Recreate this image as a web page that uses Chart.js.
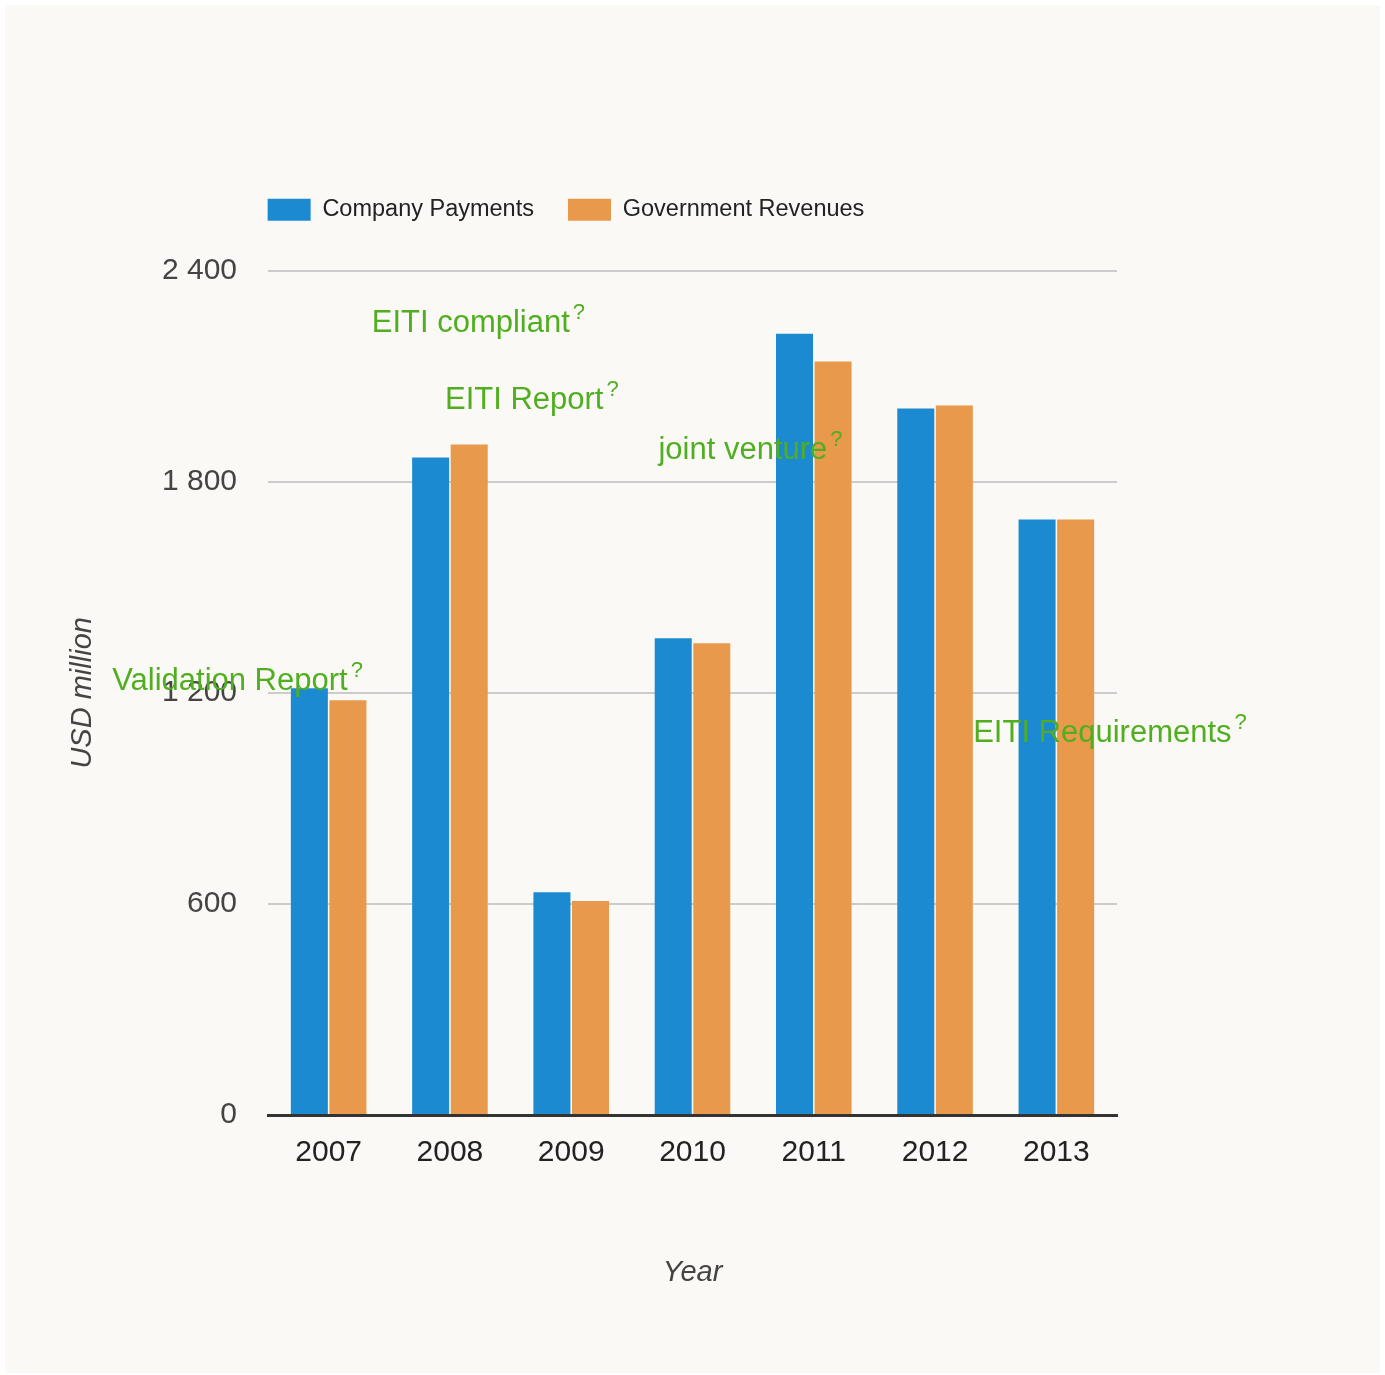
<!DOCTYPE html>
<html>
<head>
<meta charset="utf-8">
<script src="https://cdn.jsdelivr.net/npm/chart.js@4/dist/chart.umd.min.js"></script>
<style>
    body { margin: 0; background: #ffffff; }
    #fondo { position: absolute; left: 5px; top: 5px; width: 1375px; height: 1368px; background: #faf9f5; }
    #contenedor { position: absolute; left: 0; top: 0; width: 1385px; height: 1375px; }
</style>
</head>
<body>
<div id="fondo"></div>
<div id="contenedor"><canvas id="grafico"></canvas></div>
<script>
const years = ['2007', '2008', '2009', '2010', '2011', '2012', '2013'];
const companyPayments = [1213, 1869, 633, 1355, 2221, 2008, 1693];
const governmentRevenues = [1179, 1906, 608, 1341, 2142, 2017, 1693];
const yTicks = [0, 600, 1200, 1800, 2400];

// notas verdes: posición en índice de categoría (borde izquierdo) y valor de la línea base
const notasTexto = ['Validation Report', 'EITI compliant', 'EITI Report', 'joint venture', 'EITI Requirements'];
const notasX = [-1.785, 0.355, 0.959, 2.719, 5.314];
const notasY = [1207, 2227, 2008, 1866, 1059];

const fuente = '"Liberation Sans", Arial, sans-serif';

function formatearMiles(valor) {
    return String(valor).replace(/\B(?=(\d{3})+(?!\d))/g, ' ');
}

const pluginNotas = {
    id: 'notas',
    afterDraw(chart) {
        const ctx = chart.ctx;
        const x = chart.scales.x;
        const y = chart.scales.y;
        ctx.save();
        ctx.fillStyle = '#50ae20';
        ctx.textAlign = 'left';
        ctx.textBaseline = 'alphabetic';
        notasTexto.forEach((texto, i) => {
            const px = x.getPixelForValue(notasX[i]);
            const py = y.getPixelForValue(notasY[i]);
            ctx.font = '31px ' + fuente;
            ctx.fillText(texto, px, py);
            const ancho = ctx.measureText(texto).width;
            ctx.font = '22px ' + fuente;
            ctx.fillText('?', px + ancho + 3, py - 13);
        });
        ctx.restore();
    }
};

const ctx = document.getElementById('grafico').getContext('2d');
new Chart(ctx, {
    type: 'bar',
    data: {
        labels: years,
        datasets: [{
            label: 'Company Payments',
            data: companyPayments,
            backgroundColor: '#1c8ad0',
            borderWidth: 0
        }, {
            label: 'Government Revenues',
            data: governmentRevenues,
            backgroundColor: '#e8994b',
            borderWidth: 0
        }]
    },
    options: {
        responsive: true,
        maintainAspectRatio: false,
        animation: false,
        barPercentage: 0.96,
        categoryPercentage: 0.636,
        layout: {
            padding: { left: 15, right: 268, top: 164, bottom: 0 }
        },
        scales: {
            x: {
                grid: { display: false, drawTicks: false },
                border: { display: true, color: '#333333', width: 3 },
                ticks: {
                    color: '#222222',
                    padding: 20,
                    font: { family: fuente, size: 30 }
                },
                title: {
                    display: true,
                    text: 'Year',
                    color: '#444444',
                    font: { family: fuente, size: 29, style: 'italic' },
                    padding: { top: 0, bottom: 85 }
                },
                afterFit: function (escala) { escala.height = 260; }
            },
            y: {
                min: 0,
                max: 2400,
                grid: { color: '#cccccc', lineWidth: 2, drawTicks: false },
                border: { display: false },
                afterBuildTicks: function (escala) {
                    escala.ticks = yTicks.map(v => ({ value: v }));
                },
                ticks: {
                    color: '#444444',
                    padding: 31,
                    font: { family: fuente, size: 30 },
                    callback: function (value) { return formatearMiles(value); }
                },
                title: {
                    display: true,
                    text: 'USD million',
                    color: '#444444',
                    font: { family: fuente, size: 29, style: 'italic' },
                    padding: { top: 51, bottom: 0 }
                },
                afterFit: function (escala) { escala.width = 253; }
            }
        },
        plugins: {
            legend: {
                position: 'top',
                align: 'center',
                weight: 3000,
                labels: {
                    color: '#222222',
                    boxWidth: 43,
                    boxHeight: 22,
                    padding: 34,
                    font: { family: fuente, size: 23.5 }
                }
            },
            // espaciador entre la leyenda y el área del gráfico
            title: {
                display: true,
                text: '',
                weight: 2000,
                font: { size: 1 },
                padding: { top: 0, bottom: 38 }
            },
            tooltip: { enabled: false }
        }
    },
    plugins: [pluginNotas]
});
</script>
</body>
</html>
